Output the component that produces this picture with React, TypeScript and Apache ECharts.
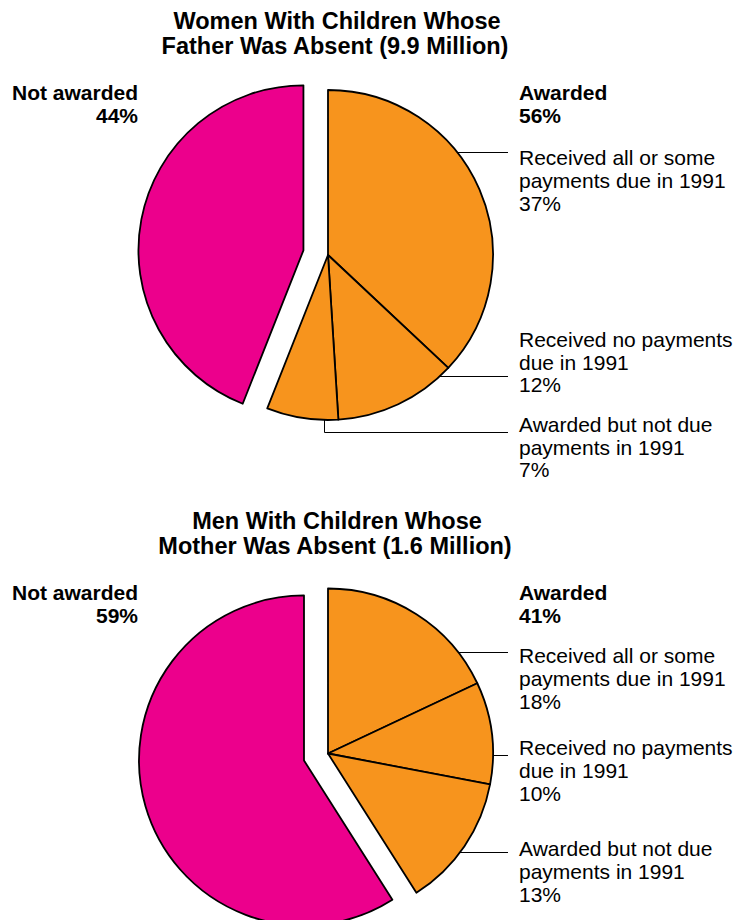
import React, { useEffect, useRef } from 'react';
import * as echarts from 'echarts';

// ---------- data ----------
const womenTitle = ['Women With Children Whose', 'Father Was Absent (9.9 Million)'];
const menTitle = ['Men With Children Whose', 'Mother Was Absent (1.6 Million)'];
const sliceNames = [
  'Received all or some payments due in 1991',
  'Received no payments due in 1991',
  'Awarded but not due payments in 1991',
  'Not awarded',
];
const sliceLabelLines = [
  ['Received all or some', 'payments due in 1991'],
  ['Received no payments', 'due in 1991'],
  ['Awarded but not due', 'payments in 1991'],
];
const awardedLabel = 'Awarded';
const notAwardedLabel = 'Not awarded';
const womenValues = [37, 12, 7, 44];
const menValues = [18, 10, 13, 59];

// ---------- styles / layout ----------
const PINK = '#EC008C';
const ORANGE = '#F7941D';
const CX = 328;
const R = 165;
const FONT_FAMILY = '"Liberation Sans", Arial, Helvetica, sans-serif';
const TITLE_FONT = `bold 23.5px ${FONT_FAMILY}`;
const BOLD_FONT = `bold 21px ${FONT_FAMILY}`;
const NORMAL_SIZE = 21;
const NORMAL_FONT = `${NORMAL_SIZE}px ${FONT_FAMILY}`;
const LINE_END_X = 508;
const TEXT_X = 519;
const BORDER_W = 1.8;

type Leader = { lineY: number; textBase: number; elbowX?: number };

const blocks = [
  {
    title: womenTitle,
    values: womenValues,
    cy: 255,
    dy: 0,
    leaders: [
      { lineY: 152.5, textBase: 165 },
      { lineY: 376.5, textBase: 346.7 },
      { lineY: 432.5, textBase: 431.7, elbowX: 324.5 },
    ] as Leader[],
  },
  {
    title: menTitle,
    values: menValues,
    cy: 753.5,
    dy: 500,
    leaders: [
      { lineY: 652.5, textBase: 663.3 },
      { lineY: 755.5, textBase: 755 },
      { lineY: 852.5, textBase: 856 },
    ] as Leader[],
  },
];

function textEl(text: string, x: number, baseline: number, font: string, size: number, align: string) {
  return {
    type: 'text',
    x,
    y: baseline - size * 0.35,
    silent: true,
    style: {
      text,
      font,
      fill: '#000',
      textAlign: align,
      textVerticalAlign: 'middle',
    },
  };
}

function pieSeries(values: number[], cy: number) {
  return {
    type: 'pie',
    center: [CX, cy],
    radius: R,
    startAngle: 90,
    clockwise: true,
    selectedMode: 'single',
    selectedOffset: 25,
    avoidLabelOverlap: false,
    silent: true,
    label: { show: false },
    labelLine: { show: false },
    emphasis: { disabled: true },
    itemStyle: { borderColor: '#000', borderWidth: BORDER_W },
    data: values.map((v, i) => ({
      name: sliceNames[i],
      value: v,
      selected: i === 3,
      itemStyle: { color: i === 3 ? PINK : ORANGE, borderColor: '#000', borderWidth: BORDER_W },
      select: { itemStyle: { color: i === 3 ? PINK : ORANGE, borderColor: '#000', borderWidth: BORDER_W } },
    })),
  };
}

export default function App() {
  const ref = useRef<HTMLDivElement>(null);
  useEffect(() => {
    const chart = echarts.init(ref.current!, null, { renderer: 'svg' });
    const graphics: any[] = [];
    blocks.forEach((b) => {
      // titles
      graphics.push(textEl(b.title[0], 337, 29.3 + b.dy, TITLE_FONT, 23.5, 'center'));
      graphics.push(textEl(b.title[1], 335, 54.3 + b.dy, TITLE_FONT, 23.5, 'center'));
      // group labels
      const notAwarded = b.values[3];
      const awarded = b.values[0] + b.values[1] + b.values[2];
      graphics.push(textEl(notAwardedLabel, 138, 100 + b.dy, BOLD_FONT, 21, 'right'));
      graphics.push(textEl(`${notAwarded}%`, 138, 122.5 + b.dy, BOLD_FONT, 21, 'right'));
      graphics.push(textEl(awardedLabel, TEXT_X, 100 + b.dy, BOLD_FONT, 21, 'left'));
      graphics.push(textEl(`${awarded}%`, TEXT_X, 122.5 + b.dy, BOLD_FONT, 21, 'left'));
      // slice labels and leaders
      b.leaders.forEach((ld, i) => {
        const lines = [...sliceLabelLines[i], `${b.values[i]}%`];
        lines.forEach((t, k) => {
          graphics.push(textEl(t, TEXT_X, ld.textBase + k * 22.8, NORMAL_FONT, NORMAL_SIZE, 'left'));
        });
        let points: number[][];
        if (ld.elbowX !== undefined) {
          const yEdge = b.cy + Math.sqrt(R * R - (ld.elbowX - CX) * (ld.elbowX - CX));
          points = [
            [ld.elbowX, yEdge],
            [ld.elbowX, ld.lineY],
            [LINE_END_X, ld.lineY],
          ];
        } else {
          const dyy = ld.lineY - b.cy;
          const xEdge = CX + Math.sqrt(Math.max(0, R * R - dyy * dyy));
          points = [
            [xEdge, ld.lineY],
            [LINE_END_X, ld.lineY],
          ];
        }
        graphics.push({
          type: 'polyline',
          silent: true,
          shape: { points },
          style: { stroke: '#000', lineWidth: 1, fill: 'none' },
        });
      });
    });

    chart.setOption({
      animation: false,
      backgroundColor: '#fff',
      series: blocks.map((b) => pieSeries(b.values, b.cy)),
      graphic: graphics,
    });
    return () => chart.dispose();
  }, []);
  return (
    <div
      ref={ref}
      style={{ position: 'absolute', left: 0, top: 0, width: 736, height: 920 }}
    />
  );
}
